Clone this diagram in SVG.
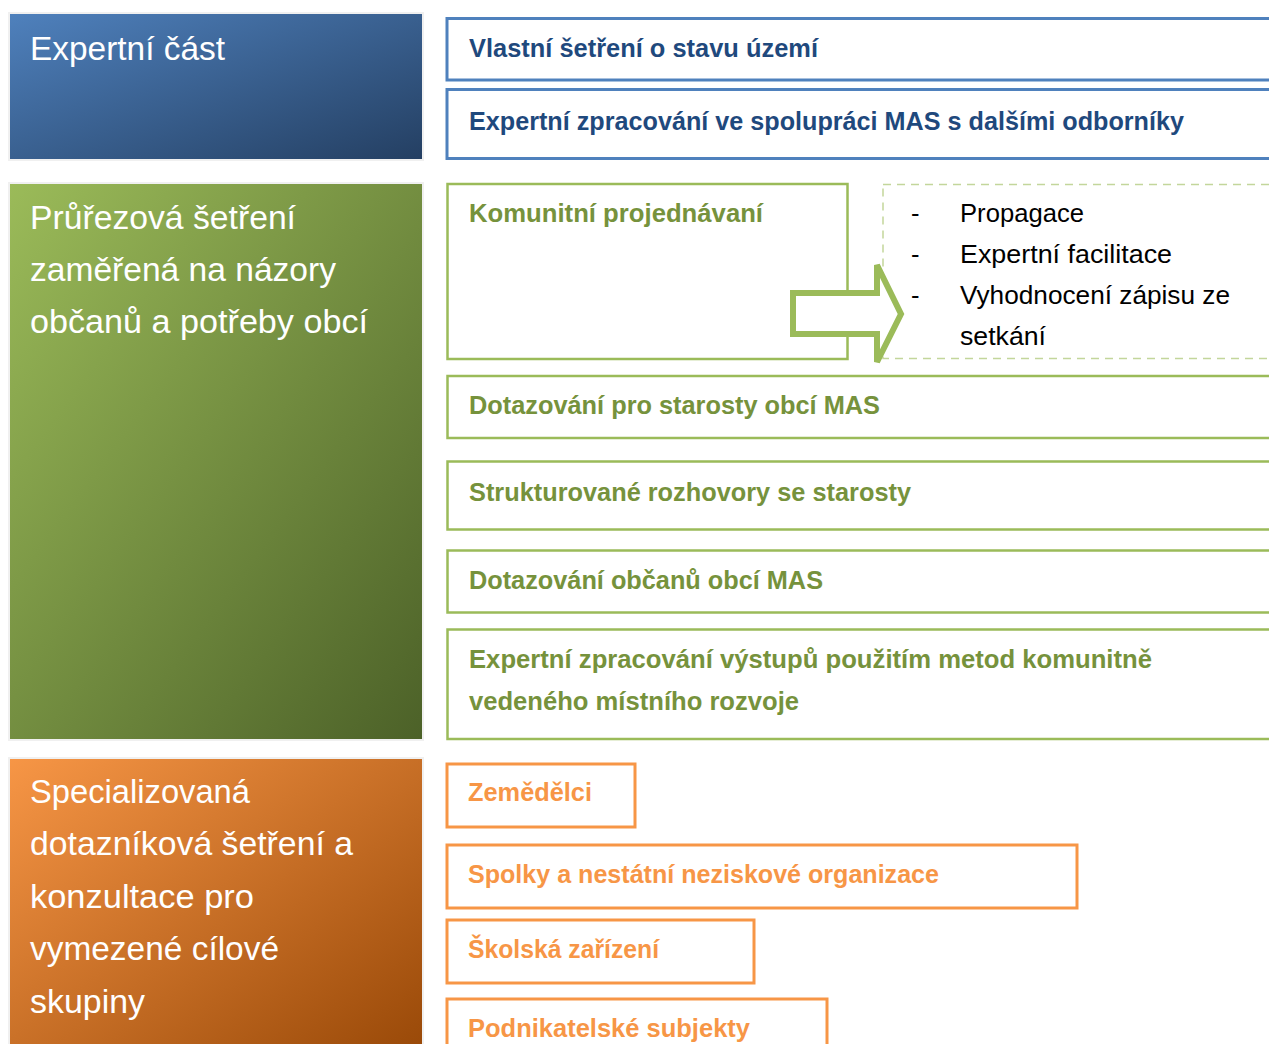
<svg xmlns="http://www.w3.org/2000/svg" width="1269" height="1044" viewBox="0 0 1269 1044">
<defs>
<linearGradient id="gBlue" x1="0" y1="0" x2="1" y2="1"><stop offset="0" stop-color="#4f81bd"/><stop offset="1" stop-color="#243f62"/></linearGradient>
<linearGradient id="gGreen" x1="0" y1="0" x2="1" y2="1"><stop offset="0" stop-color="#9bbb59"/><stop offset="1" stop-color="#4c6128"/></linearGradient>
<linearGradient id="gOrange" x1="0" y1="0" x2="1" y2="1"><stop offset="0" stop-color="#f79646"/><stop offset="1" stop-color="#984807"/></linearGradient>
<style>
.big{stroke:#f0f0f0;stroke-width:2}
.bt{font-family:"Liberation Sans",Arial,sans-serif;font-size:33px;fill:#ffffff}
.lb{font-family:"Liberation Sans",Arial,sans-serif;font-size:25px;font-weight:bold}
.bl{fill:none;stroke:#4f81bd;stroke-width:3}
.gr{fill:none;stroke:#9bbb59;stroke-width:2.5}
.or{fill:none;stroke:#f79646;stroke-width:3}
.tb{fill:#1f497d}
.tg{fill:#76923c}
.to{fill:#f79646}
.bu{font-family:"Liberation Sans",Arial,sans-serif;font-size:25.5px;fill:#000000}
</style>
</defs>
<rect width="1269" height="1044" fill="#ffffff"/>

<g id="expertni-cast">
<rect class="big" x="9" y="13" width="414" height="147" fill="url(#gBlue)"/>
<text class="bt" x="30" y="60" textLength="195" lengthAdjust="spacingAndGlyphs">Expertní část</text>
</g>
<g id="vlastni-setreni">
<rect class="bl" x="447" y="18.5" width="900" height="61.5"/>
<text class="lb tb" x="469" y="57" textLength="349" lengthAdjust="spacingAndGlyphs">Vlastní šetření o stavu území</text>
</g>
<g id="expertni-zpracovani">
<rect class="bl" x="447" y="89.5" width="900" height="69"/>
<text class="lb tb" x="469" y="130" textLength="715" lengthAdjust="spacingAndGlyphs">Expertní zpracování ve spolupráci MAS s dalšími odborníky</text>
</g>

<g id="prurezova-setreni">
<rect class="big" x="9" y="183" width="414" height="557" fill="url(#gGreen)"/>
<text class="bt" x="30" y="229" textLength="266" lengthAdjust="spacingAndGlyphs">Průřezová šetření</text>
<text class="bt" x="30" y="281" textLength="306" lengthAdjust="spacingAndGlyphs">zaměřená na názory</text>
<text class="bt" x="30" y="333" textLength="338" lengthAdjust="spacingAndGlyphs">občanů a potřeby obcí</text>
</g>
<g id="komunitni-projednavani">
<rect class="gr" x="447.5" y="184" width="400" height="175"/>
<text class="lb tg" x="469" y="222" textLength="294" lengthAdjust="spacingAndGlyphs">Komunitní projednávaní</text>
</g>
<g id="komunitni-body">
<rect x="883" y="184.5" width="420" height="174" fill="none" stroke="#c3d69b" stroke-width="1.5" stroke-dasharray="8 6"/>
<text class="bu" x="911" y="222">-</text>
<text class="bu" x="960" y="222" textLength="124" lengthAdjust="spacingAndGlyphs">Propagace</text>
<text class="bu" x="911" y="263">-</text>
<text class="bu" x="960" y="263" textLength="212" lengthAdjust="spacingAndGlyphs">Expertní facilitace</text>
<text class="bu" x="911" y="304">-</text>
<text class="bu" x="960" y="304" textLength="270" lengthAdjust="spacingAndGlyphs">Vyhodnocení zápisu ze</text>
<text class="bu" x="960" y="345" textLength="86" lengthAdjust="spacingAndGlyphs">setkání</text>
</g>
<g id="connectors">
<polygon points="793,293 877,293 877,265 901,314 877,362 877,334 793,334" fill="#ffffff" stroke="#9bbb59" stroke-width="6" stroke-linejoin="miter"/>
</g>
<g id="dotazovani-starosty">
<rect class="gr" x="447.5" y="376" width="900" height="62"/>
<text class="lb tg" x="469" y="414" textLength="411" lengthAdjust="spacingAndGlyphs">Dotazování pro starosty obcí MAS</text>
</g>
<g id="strukturovane-rozhovory">
<rect class="gr" x="447.5" y="461.5" width="900" height="68"/>
<text class="lb tg" x="469" y="501" textLength="442" lengthAdjust="spacingAndGlyphs">Strukturované rozhovory se starosty</text>
</g>
<g id="dotazovani-obcanu">
<rect class="gr" x="447.5" y="550.5" width="900" height="62"/>
<text class="lb tg" x="469" y="589" textLength="354" lengthAdjust="spacingAndGlyphs">Dotazování občanů obcí MAS</text>
</g>
<g id="expertni-zpracovani-vystupu">
<rect class="gr" x="447.5" y="629.5" width="900" height="109.5"/>
<text class="lb tg" x="469" y="668" textLength="683" lengthAdjust="spacingAndGlyphs">Expertní zpracování výstupů použitím metod komunitně</text>
<text class="lb tg" x="469" y="710" textLength="330" lengthAdjust="spacingAndGlyphs">vedeného místního rozvoje</text>
</g>

<g id="specializovana-setreni">
<rect class="big" x="9" y="758" width="414" height="300" fill="url(#gOrange)"/>
<text class="bt" x="30" y="803" textLength="220" lengthAdjust="spacingAndGlyphs">Specializovaná</text>
<text class="bt" x="30" y="855" textLength="323" lengthAdjust="spacingAndGlyphs">dotazníková šetření a</text>
<text class="bt" x="30" y="908" textLength="224" lengthAdjust="spacingAndGlyphs">konzultace pro</text>
<text class="bt" x="30" y="960" textLength="249" lengthAdjust="spacingAndGlyphs">vymezené cílové</text>
<text class="bt" x="30" y="1013" textLength="115" lengthAdjust="spacingAndGlyphs">skupiny</text>
</g>
<g id="zemedelci">
<rect class="or" x="447" y="764" width="188" height="63"/>
<text class="lb to" x="468" y="801" textLength="124" lengthAdjust="spacingAndGlyphs">Zemědělci</text>
</g>
<g id="spolky">
<rect class="or" x="447" y="845" width="630" height="63"/>
<text class="lb to" x="468" y="883" textLength="471" lengthAdjust="spacingAndGlyphs">Spolky a nestátní neziskové organizace</text>
</g>
<g id="skolska-zarizeni">
<rect class="or" x="447" y="920" width="307" height="63"/>
<text class="lb to" x="468" y="958" textLength="191" lengthAdjust="spacingAndGlyphs">Školská zařízení</text>
</g>
<g id="podnikatelske-subjekty">
<rect class="or" x="447" y="999" width="380" height="80"/>
<text class="lb to" x="468" y="1037" textLength="282" lengthAdjust="spacingAndGlyphs">Podnikatelské subjekty</text>
</g>
</svg>
